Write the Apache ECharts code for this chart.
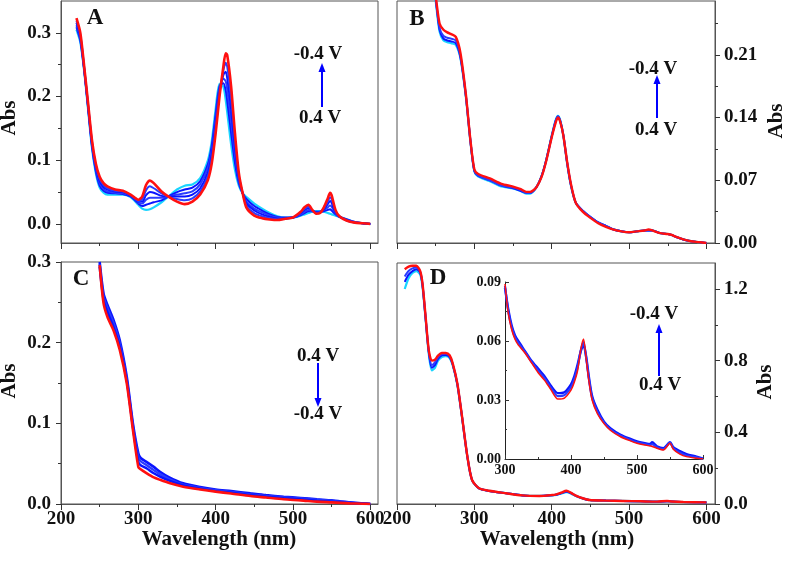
<!DOCTYPE html>
<html><head><meta charset="utf-8">
<script src="https://cdn.jsdelivr.net/npm/echarts@6/dist/echarts.min.js"></script>
<style>html,body{margin:0;padding:0;background:#fff}#c{width:787px;height:562px}</style>
</head><body><div id="c"></div>
<script>
// ---------- Panel A ----------
const WL_A = [220,225,230,235,240,245,250,255,260,270,280,290,300,305,310,315,320,330,340,350,360,370,380,390,395,400,405,410,413,415,420,425,430,435,440,450,460,470,480,490,500,510,515,520,525,530,535,540,545,548,550,555,560,570,580,590,600];
const A_CYAN = [.305,.285,.240,.180,.120,.080,.057,.049,.046, .046,.046,.042,.030, .024,.022,.023,.026, .034,.044,.054,.060,.062,.072,.100, .130,.180,.220,.215,.195,.175,.125,.085,.060,.048,.042, .032,.024,.017,.012,.010,.010,.013, .015,.017,.019,.020,.020,.019,.017,.016,.015,.013,.011, .007,.003,.001,0];
const A_B1 = [.309,.288,.241,.182,.122,.083,.060,.052,.049, .048,.047,.043,.032, .028,.030,.032,.034, .037,.044,.050,.054,.057,.067,.094, .123,.172,.216,.221,.210,.193,.143,.096,.064,.048,.039, .028,.021,.015,.011,.010,.010,.014, .017,.020,.020,.019,.019,.020,.022,.023,.021,.015,.011, .007,.003,.001,0];
const A_B2 = [.312,.291,.243,.184,.125,.086,.064,.055,.051, .049,.048,.044,.033, .032,.038,.041,.041, .041,.043,.046,.048,.051,.062,.088, .116,.165,.212,.228,.224,.211,.161,.108,.068,.048,.035, .024,.018,.013,.010,.009,.010,.015, .019,.022,.020,.018,.019,.022,.026,.029,.027,.017,.011, .006,.003,.001,0];
const A_B3 = [.316,.294,.244,.186,.127,.089,.067,.058,.054, .051,.050,.044,.035, .035,.045,.050,.049, .044,.043,.043,.043,.046,.056,.081, .109,.157,.208,.234,.239,.229,.180,.119,.072,.048,.032, .021,.015,.011,.008,.009,.010,.017, .022,.025,.021,.018,.018,.023,.031,.036,.033,.018,.012, .006,.002,.001,0];
const A_B4 = [.319,.297,.246,.188,.130,.092,.071,.061,.056, .052,.051,.045,.036, .039,.053,.059,.056, .048,.042,.039,.037,.040,.051,.075, .102,.150,.204,.241,.253,.247,.198,.131,.076,.048,.028, .017,.012,.009,.007,.008,.010,.018, .024,.027,.021,.017,.018,.025,.035,.042,.039,.020,.012, .005,.002,.001,0];
const A_RED = [.323,.300,.247,.190,.132,.095,.074,.064,.059, .054,.052,.046,.038, .043,.061,.068,.064, .051,.042,.035,.031,.035,.046,.069, .095,.142,.200,.247,.268,.265,.216,.142,.080,.048,.025, .013,.009,.007,.006,.008,.010,.019, .026,.030,.022,.016,.017,.026,.040,.049,.045,.022,.012, .005,.002,.001,0];

// ---------- Panel B ----------
const WL_B = [245,250,255,260,265,270,276,282,289,295,300,305,320,335,350,360,367,372,380,387,393,400,405,408,411,415,420,425,431,440,450,460,470,480,490,500,510,520,525,530,540,550,555,560,570,580,590,600];
const B_CYAN = [.300,.270,.236,.226,.224,.223, .221,.206,.163,.112,.080,.074, .069,.063,.061,.058,.055,.055,.062,.075,.093, .120,.137,.142,.137,.120,.088,.063,.045, .036,.029,.023,.019,.015,.013,.012,.013,.014, .014,.014,.011,.010,.009,.007, .004,.002,.001,0];
const B_B1 = [.300,.272,.238,.228,.226,.225, .223,.207,.164,.113,.080,.075, .070,.064,.061,.058,.056,.056,.062,.075,.093, .119,.136,.141,.136,.120,.089,.064,.045, .036,.029,.023,.019,.015,.013,.012,.013,.014, .014,.014,.011,.010,.009,.007, .004,.002,.001,0];
const B_B2 = [.300,.273,.240,.231,.229,.228, .226,.209,.165,.113,.081,.075, .070,.064,.062,.059,.056,.056,.062,.075,.093, .119,.136,.141,.136,.120,.089,.064,.045, .036,.029,.023,.019,.015,.013,.012,.013,.014, .014,.014,.011,.010,.009,.007, .004,.002,.001,0];
const B_RED = [.300,.275,.245,.238,.235,.233, .230,.212,.166,.114,.082,.077, .072,.066,.063,.060,.057,.057,.062,.074,.092, .118,.134,.140,.135,.120,.090,.065,.045, .035,.028,.022,.018,.015,.013,.012,.013,.014, .015,.014,.011,.010,.009,.007, .004,.002,.001,0];

// ---------- Panel C ----------
const WL_C = [250,255,260,268,276,285,293,300,303,311,320,328,340,358,380,400,420,445,465,488,510,531,550,574,590,600];
const C_B1 = [.300,.261,.247,.228,.203,.158,.100,.063,.057,.052, .046,.040,.033,.0256,.021,.018,.016,.0132,.011,.009, .0075,.0058,.0045,.002,.0008,0];
const C_B2 = [.297,.257,.243,.224,.199,.155,.097,.058,.053,.048, .042,.037,.031,.024,.020,.017,.015,.012,.010,.0082, .0068,.0052,.004,.0017,.0006,0];
const C_B3 = [.294,.253,.238,.219,.195,.153,.095,.052,.048,.044, .038,.034,.029,.023,.019,.016,.014,.011,.009,.0072, .0058,.0042,.003,.0013,.0005,0];
const C_RED = [.296,.249,.232,.215,.191,.150,.092,.046,.043,.038, .033,.030,.026,.0215,.018,.0153,.013,.0099,.008,.0058, .0045,.0029,.002,.0008,.0003,0];

// ---------- Panel D ----------
const WL_D = [210,215,220,225,230,233,237,241,245,249,253,258,263,268,272,278,284,291,297,306,319,341,362,384,400,406,412,419,425,432,440,449,470,492,515,536,549,555,570,600];
const D_CYAN = [1.20,1.26,1.29,1.30,1.28,1.21,1.03,.84, .745,.76,.80,.82,.825,.815,.775,.665, .485,.262,.133,.087,.073,.060,.048,.045, .048,.051,.058,.066,.058,.043,.031,.022, .019,.017,.015,.013,.016,.014,.011,.009];
const D_B1 = [1.24,1.28,1.30,1.31,1.29,1.22,1.035,.85, .76,.775,.81,.83,.832,.82,.778,.668, .487,.263,.133,.087,.073,.060,.048,.045, .049,.052,.060,.069,.060,.044,.031,.022, .019,.017,.015,.013,.016,.014,.011,.009];
const D_B2 = [1.27,1.30,1.315,1.32,1.295,1.225,1.04,.855, .775,.79,.818,.836,.838,.825,.781,.67, .488,.263,.134,.087,.073,.060,.048,.045, .049,.053,.061,.071,.061,.044,.032,.022, .019,.017,.015,.013,.016,.014,.011,.009];
const D_RED = [1.31,1.325,1.33,1.33,1.30,1.23,1.045,.86, .80,.805,.828,.843,.843,.830,.785,.673, .490,.264,.134,.088,.074,.060,.048,.045, .050,.054,.063,.074,.062,.045,.032,.022, .019,.017,.015,.013,.017,.014,.011,.009];

// ---------- Inset of D ----------
const WL_I = [300,305,310,315,320,330,340,350,360,370,380,390,400,405,410,415,419,423,427,432,440,450,460,475,490,500,510,520,523,530,540,550,555,565,575,590,600];
const I_B1 = [.087,.076,.068,.063,.060, .055,.050,.046,.042,.037,.0335,.034,.038, .042,.048,.055,.058,.052,.042,.032, .025,.019,.0155,.0123,.0102,.009,.0082,.0076, .0085,.0065,.0055,.0085,.006,.004,.0025,.0012,.0002];
const I_B2 = [.088,.075,.067,.062,.059, .0545,.0495,.045,.041,.036,.032,.0325,.0365, .0405,.0465,.0555,.0595,.0515,.041,.031, .024,.0185,.015,.0118,.0097,.0085,.0077,.0071, .0075,.006,.005,.0083,.0055,.0032,.0018,.0008,.0001];
const I_RED = [.089,.074,.066,.061,.058, .054,.049,.044,.040,.035,.0305,.031,.035, .039,.045,.056,.061,.051,.040,.030, .023,.018,.0145,.0113,.0092,.008,.0072,.0066, .0064,.0055,.0046,.008,.005,.0025,.0012,.0004,0];

// ---------- Tick values ----------
const X_MAJOR = [200,300,400,500,600];
const X_MINOR = [250,350,450,550];
const YA_MAJOR = [0,0.1,0.2,0.3], YA_MINOR = [0.05,0.15,0.25];
const YB_MAJOR = [0,0.07,0.14,0.21], YB_MINOR = [0.035,0.105,0.175,0.245];
const YC_MAJOR = [0,0.1,0.2,0.3], YC_MINOR = [0.05,0.15,0.25];
const YD_MAJOR = [0,0.4,0.8,1.2], YD_MINOR = [0.2,0.6,1.0];
const XI_MAJOR = [300,400,500,600], XI_MINOR = [350,450,550];
const YI_MAJOR = [0,0.03,0.06,0.09], YI_MINOR = [0.015,0.045,0.075];

const FONT = '"Liberation Serif","Times New Roman",Times,serif';
const RED = '#ff1010', BLUE = '#0a14ff', BLUE2 = '#2a3cff', CYAN = '#1ad4ff';

const chart = echarts.init(document.getElementById('c'), null, {renderer:'canvas'});

const grids = [
  {left:61, top:1, width:317, height:242},     // A
  {left:397, top:1, width:318, height:242},    // B
  {left:61, top:262, width:317, height:242},   // C
  {left:397, top:263, width:318, height:241},  // D
  {left:505, top:282, width:198, height:177}   // inset
].map((g,i)=>Object.assign({show:i<4, borderColor:'#555', borderWidth:1, backgroundColor:'transparent', containLabel:false, outerBoundsMode:'none'}, g));

const xAxis = [], yAxis = [];
function addAxis(list, dim, g, o) {
  const base = {type:'value', gridIndex:g, min:o.min, max:o.max, position:o.pos, splitLine:{show:false}};
  const idx = list.length;
  list.push(Object.assign({}, base, {
    axisLine:{show:true, onZero:false, lineStyle:{color:o.lineColor||'#555', width:1}},
    axisTick:{show:true, inside:!!o.inside, customValues:o.major, length:o.tickLen||6, lineStyle:{color:'#333', width:1}},
    axisLabel:{show:!!o.labels, customValues:o.major, fontFamily:FONT, fontWeight:'bold', fontSize:o.fs||19, color:'#111', margin:o.margin||6,
      formatter: o.digits!=null ? (v)=>Number(v).toFixed(o.digits) : (v)=>String(Math.round(v))}
  }));
  list.push(Object.assign({}, base, {
    axisLine:{show:false, onZero:false},
    axisTick:{show:true, inside:!!o.inside, customValues:o.minor, length:o.minorLen||3, lineStyle:{color:'#333', width:1}},
    axisLabel:{show:false}
  }));
  return idx;
}
const xa = addAxis(xAxis,'x',0,{min:200,max:610,pos:'bottom',major:X_MAJOR,minor:X_MINOR,labels:false});
const ya = addAxis(yAxis,'y',0,{min:-0.03,max:0.35,pos:'left',major:YA_MAJOR,minor:YA_MINOR,labels:true,digits:1,margin:10,tickLen:5});
const xb = addAxis(xAxis,'x',1,{min:200,max:611,pos:'bottom',major:X_MAJOR,minor:X_MINOR,labels:false});
const yb = addAxis(yAxis,'y',1,{min:0,max:0.27,pos:'right',major:YB_MAJOR,minor:YB_MINOR,labels:true,digits:2,margin:9,tickLen:5});
const xc = addAxis(xAxis,'x',2,{min:200,max:610,pos:'bottom',major:X_MAJOR,minor:X_MINOR,labels:true,margin:6});
const yc = addAxis(yAxis,'y',2,{min:0,max:0.3,pos:'left',major:YC_MAJOR,minor:YC_MINOR,labels:true,digits:1,margin:10,tickLen:5});
const xd = addAxis(xAxis,'x',3,{min:200,max:611,pos:'bottom',major:X_MAJOR,minor:X_MINOR,labels:true,margin:6});
const yd = addAxis(yAxis,'y',3,{min:0,max:1.345,pos:'right',major:YD_MAJOR,minor:YD_MINOR,labels:true,digits:1,margin:9,tickLen:5});
const xi = addAxis(xAxis,'x',4,{min:300,max:600,pos:'bottom',major:XI_MAJOR,minor:XI_MINOR,labels:true,fs:14,margin:4,inside:true,tickLen:4,minorLen:2,lineColor:'#222'});
const yi = addAxis(yAxis,'y',4,{min:0,max:0.09,pos:'left',major:YI_MAJOR,minor:YI_MINOR,labels:true,fs:14,digits:2,margin:4,inside:true,tickLen:4,minorLen:2,lineColor:'#222'});

const series = [];
function add(wl, vals, xI, yI, color, width) {
  series.push({type:'line', xAxisIndex:xI, yAxisIndex:yI, data: wl.map((w,i)=>[w, vals[i]]),
    showSymbol:false, symbol:'none', smooth:0.25, clip:true, silent:true,
    lineStyle:{color:color, width:width}, emphasis:{disabled:true}});
}
// A
add(WL_A, A_CYAN, xa, ya, CYAN, 2.2);
add(WL_A, A_B1, xa, ya, BLUE, 2);
add(WL_A, A_B2, xa, ya, BLUE2, 2);
add(WL_A, A_B3, xa, ya, BLUE, 2);
add(WL_A, A_B4, xa, ya, BLUE2, 2);
add(WL_A, A_RED, xa, ya, RED, 2.6);
// B
add(WL_B, B_CYAN, xb, yb, CYAN, 2.2);
add(WL_B, B_B1, xb, yb, BLUE, 2);
add(WL_B, B_B2, xb, yb, BLUE2, 2);
add(WL_B, B_RED, xb, yb, RED, 2.4);
// C
add(WL_C, C_B1, xc, yc, BLUE, 2.6);
add(WL_C, C_B2, xc, yc, BLUE2, 2.4);
add(WL_C, C_B3, xc, yc, BLUE, 2.4);
add(WL_C, C_RED, xc, yc, RED, 2.6);
// D
add(WL_D, D_CYAN, xd, yd, CYAN, 2.2);
add(WL_D, D_B1, xd, yd, BLUE, 2);
add(WL_D, D_B2, xd, yd, BLUE2, 2);
add(WL_D, D_RED, xd, yd, RED, 2.4);
// inset
add(WL_I, I_B1, xi, yi, BLUE, 2.4);
add(WL_I, I_B2, xi, yi, BLUE2, 2.2);
add(WL_I, I_RED, xi, yi, RED, 1.5);

function txt(x, y, s, size, rot) {
  return {type:'text', x:x, y:y, rotation:rot||0, z:100, silent:true,
    style:{text:s, font:'bold '+size+'px '+FONT, fill:'#111', align:'center', verticalAlign:'middle', textAlign:'center', textVerticalAlign:'middle'}};
}
function arrow(x, yFrom, yTo) {
  const dir = yTo < yFrom ? 1 : -1;
  return [
    {type:'line', z:100, silent:true, shape:{x1:x, y1:yFrom, x2:x, y2:yTo + dir*6}, style:{stroke:'#0000ff', lineWidth:2}},
    {type:'polygon', z:100, silent:true, shape:{points:[[x-3.5, yTo + dir*9],[x+3.5, yTo + dir*9],[x, yTo]]}, style:{fill:'#0000ff'}}
  ];
}
const graphic = [
  txt(95, 18, 'A', 23), txt(417, 19, 'B', 23), txt(81, 279, 'C', 23), txt(438, 278, 'D', 23),
  txt(10, 118, 'Abs', 21, Math.PI/2), txt(777, 121, 'Abs', 21, Math.PI/2),
  txt(10, 381, 'Abs', 21, Math.PI/2), txt(766, 382, 'Abs', 21, Math.PI/2),
  txt(219, 540, 'Wavelength (nm)', 21), txt(557, 540, 'Wavelength (nm)', 21),
  txt(318, 54, '-0.4 V', 19), txt(320, 118, '0.4 V', 19),
  txt(653, 69, '-0.4 V', 19), txt(656, 130, '0.4 V', 19),
  txt(318, 356, '0.4 V', 19), txt(318, 414, '-0.4 V', 19),
  txt(654, 314, '-0.4 V', 19), txt(660, 385, '0.4 V', 19),
  ...arrow(322, 107, 63), ...arrow(657, 118, 75), ...arrow(318, 363, 407), ...arrow(659, 376, 324)
];

chart.setOption({animation:false, backgroundColor:'#fff', grid:grids, xAxis:xAxis, yAxis:yAxis, series:series, graphic:graphic});
</script>
</body></html>
